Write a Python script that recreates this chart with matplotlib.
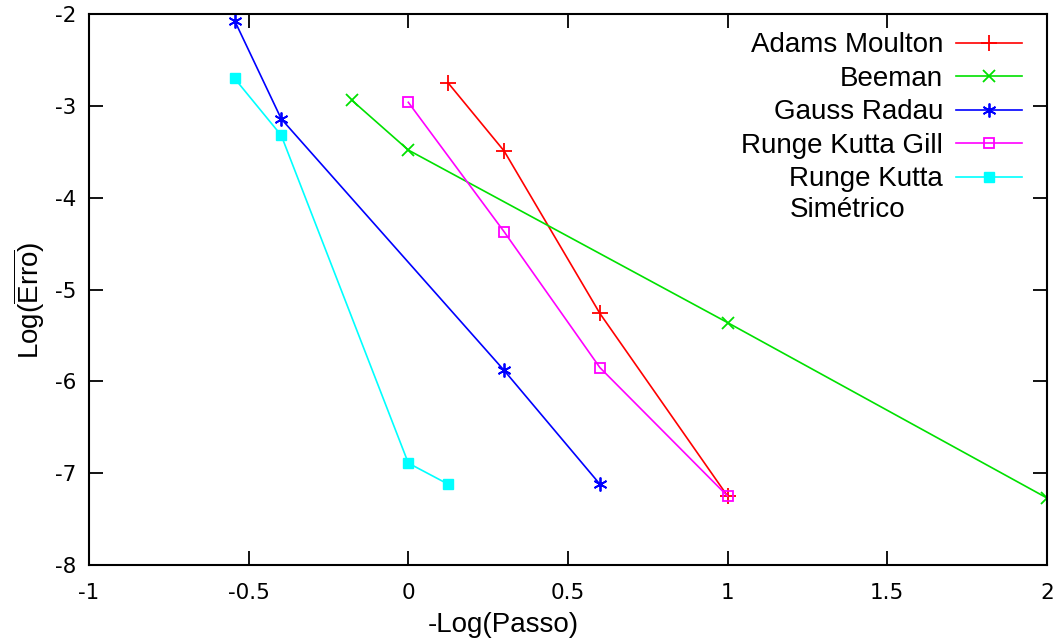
import numpy as np
import matplotlib.pyplot as plt

plt.rcParams['mathtext.fontset'] = 'custom'
plt.rcParams['mathtext.rm'] = 'Liberation Sans'

# -Log(Passo) values and Log(mean error) per method
am_x = [0.125, 0.30, 0.60, 1.0]
am_y = [-2.75, -3.49, -5.26, -7.25]

bee_x = [-0.176, 0.0, 1.0, 2.0]
bee_y = [-2.94, -3.48, -5.36, -7.27]

gr_x = [-0.544, -0.398, 0.30, 0.60]
gr_y = [-2.07, -3.14, -5.88, -7.12]

rkg_x = [0.0, 0.30, 0.60, 1.0]
rkg_y = [-2.96, -4.37, -5.85, -7.25]

rks_x = [-0.544, -0.398, 0.0, 0.125]
rks_y = [-2.70, -3.32, -6.89, -7.12]

labels = ['Adams Moulton', 'Beeman', 'Gauss Radau', 'Runge Kutta Gill',
          'Runge Kutta']
extra_line = 'Simétrico'

fig = plt.figure(figsize=(10.57, 6.39), dpi=100)
ax = fig.add_axes([0.0842, 0.1158, 0.9063, 0.862])

lw = 1.2
ax.plot(am_x, am_y, color='#ff0000', marker='+', ms=11, mew=1.3, lw=lw, label=labels[0])
ax.plot(bee_x, bee_y, color='#00e000', marker='x', ms=9, mew=1.3, lw=lw, label=labels[1])
ax.plot(gr_x, gr_y, color='#0000ff', marker=(6, 2, 0), ms=10, mew=1.3, lw=lw, label=labels[2])
ax.plot(rkg_x, rkg_y, color='#ff00ff', marker='s', ms=7.5, mfc='none', mew=1.3, lw=lw, label=labels[3])
ax.plot(rks_x, rks_y, color='#00ffff', marker='s', ms=7.5, lw=lw, label=labels[4])

ax.set_xlim(-1, 2)
ax.set_ylim(-8, -2)
ax.set_xticks([-1, -0.5, 0, 0.5, 1, 1.5, 2])
ax.set_xticklabels(['-1', '-0.5', '0', '0.5', '1', '1.5', '2'])
ax.set_yticks(range(-8, -1))
ax.set_yticklabels([str(v) for v in range(-8, -1)])
ax.tick_params(direction='in', length=10, width=1.3, top=True, right=True,
               labelsize=15.5)
ax.tick_params(axis='x', pad=13)
ax.tick_params(axis='y', pad=9)
for s in ax.spines.values():
    s.set_linewidth(1.5)

ax.set_xlabel('-Log(Passo)', fontsize=20, family='Liberation Sans')
ax.xaxis.set_label_coords(0.433, -0.085)
ax.set_ylabel(r'Log($\overline{\mathrm{Erro}}$)', fontsize=20, family='Liberation Sans')
ax.yaxis.set_label_coords(-0.044, 0.48)

leg = ax.legend(loc='upper right', markerfirst=False, frameon=False,
                prop={'family': 'Liberation Sans', 'size': 20},
                handlelength=2.4, labelspacing=0.27, borderaxespad=0.25,
                handletextpad=0.45, bbox_to_anchor=(0.993, 1.0))

# second line of the last legend label, left-aligned under it
fig.canvas.draw()
last = leg.get_texts()[-1]
bb = last.get_window_extent()
x0, y0 = fig.transFigure.inverted().transform((bb.x0, bb.y0))
fig.text(x0, y0 - 0.008, extra_line, ha='left', va='top',
         family='Liberation Sans', fontsize=20)

fig.savefig('out.png', dpi=100)
